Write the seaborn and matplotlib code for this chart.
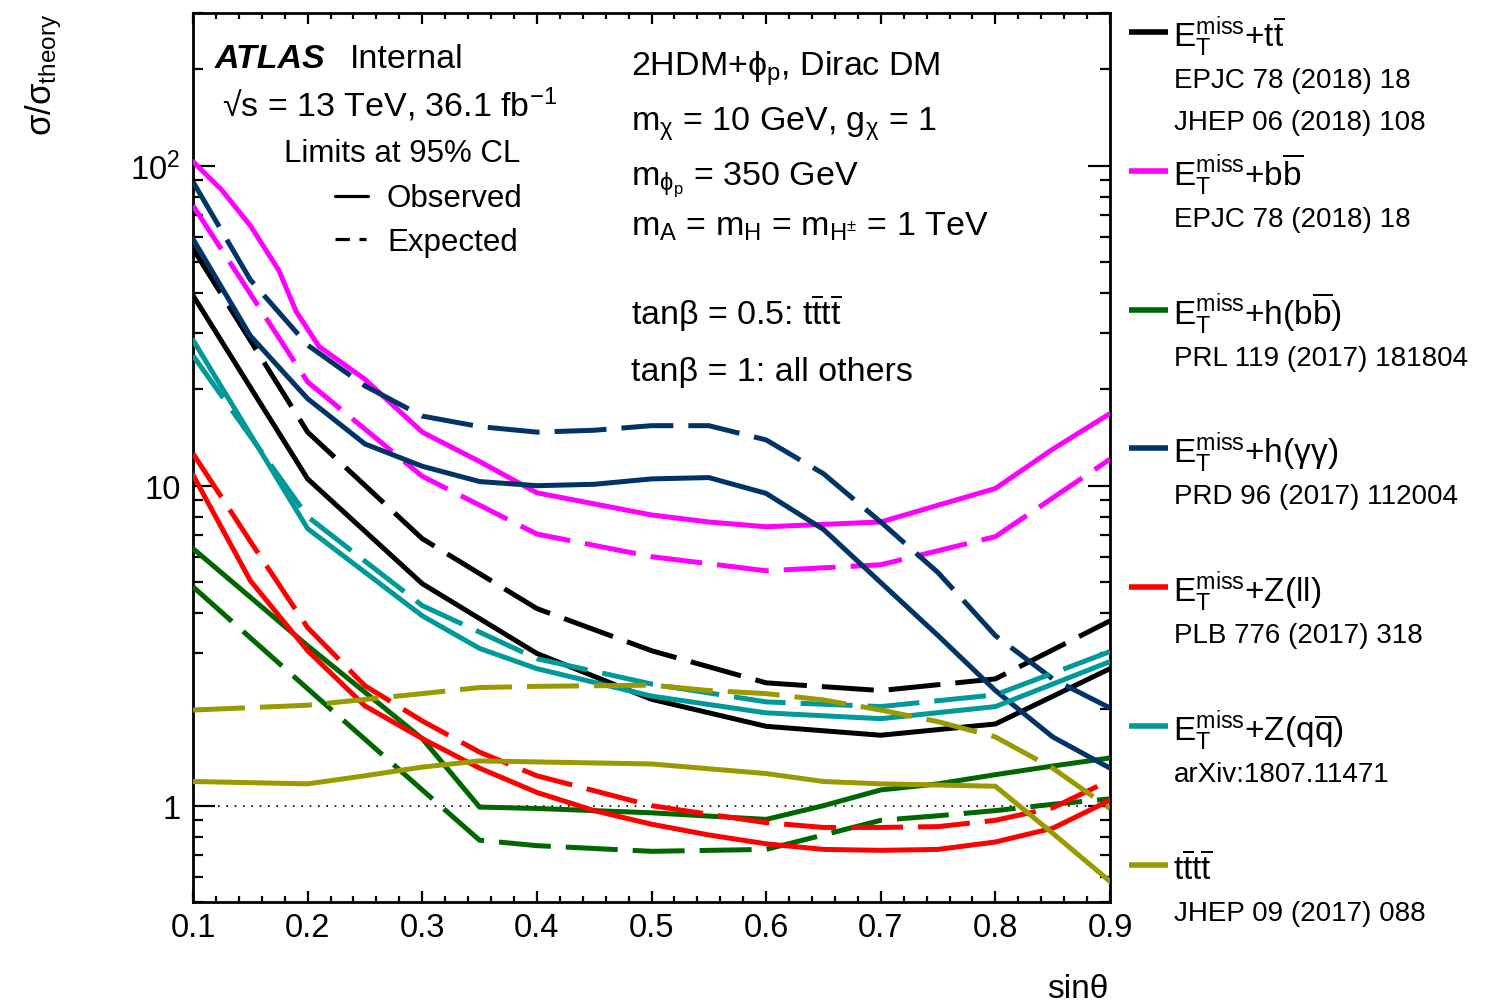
import numpy as np
import pandas as pd
import matplotlib
matplotlib.use("Agg")
import matplotlib.pyplot as plt
import matplotlib.ticker as mticker
from matplotlib.lines import Line2D
import seaborn as sns

# ---------------- data ----------------
tt_obs_x = [0.1, 0.15, 0.2, 0.3, 0.4, 0.5, 0.6, 0.7, 0.8, 0.9]
tt_obs_y = [39.3, 20.3, 10.5, 4.94, 2.99, 2.15, 1.77, 1.66, 1.80, 2.68]
tt_exp_x = [0.1, 0.2, 0.3, 0.4, 0.5, 0.6, 0.7, 0.8, 0.9]
tt_exp_y = [55.0, 14.7, 6.83, 4.13, 3.05, 2.42, 2.29, 2.49, 3.78]

bb_obs_x = [0.1, 0.125, 0.15, 0.175, 0.19, 0.21, 0.25, 0.3, 0.35, 0.4, 0.5, 0.55, 0.6, 0.7, 0.8, 0.85, 0.9]
bb_obs_y = [103, 84, 65, 47, 35, 27.2, 21.5, 14.7, 11.9, 9.5, 8.1, 7.7, 7.44, 7.7, 9.8, 13.0, 16.8]
bb_exp_x = [0.1, 0.2, 0.3, 0.4, 0.5, 0.6, 0.7, 0.8, 0.9]
bb_exp_y = [75, 21.1, 10.7, 7.06, 6.0, 5.42, 5.66, 6.93, 12.1]

hbb_obs_x = [0.1, 0.2, 0.3, 0.35, 0.4, 0.5, 0.6, 0.65, 0.7, 0.75, 0.8, 0.85, 0.9]
hbb_obs_y = [6.36, 3.16, 1.62, 0.99, 0.98, 0.95, 0.906, 1.0, 1.12, 1.17, 1.25, 1.33, 1.41]
hbb_exp_x = [0.1, 0.2, 0.3, 0.35, 0.4, 0.5, 0.6, 0.65, 0.7, 0.75, 0.8, 0.85, 0.9]
hbb_exp_y = [4.83, 2.32, 1.12, 0.78, 0.75, 0.72, 0.73, 0.81, 0.90, 0.93, 0.965, 1.01, 1.05]

hgg_obs_x = [0.1, 0.15, 0.2, 0.25, 0.3, 0.35, 0.4, 0.45, 0.5, 0.55, 0.6, 0.65, 0.7, 0.75, 0.8, 0.85, 0.9]
hgg_obs_y = [59, 29.4, 18.7, 13.5, 11.5, 10.3, 10.0, 10.1, 10.5, 10.6, 9.46, 7.3, 4.98, 3.4, 2.29, 1.64, 1.31]
hgg_exp_x = [0.1, 0.15, 0.2, 0.25, 0.3, 0.35, 0.4, 0.45, 0.5, 0.55, 0.6, 0.65, 0.7, 0.75, 0.8, 0.85, 0.9]
hgg_exp_y = [89, 44, 27.5, 20.5, 16.5, 15.3, 14.7, 14.9, 15.4, 15.4, 13.9, 10.9, 7.7, 5.35, 3.4, 2.49, 2.02]

zll_obs_x = [0.1, 0.15, 0.2, 0.25, 0.3, 0.35, 0.4, 0.45, 0.5, 0.55, 0.6, 0.65, 0.7, 0.75, 0.8, 0.85, 0.9]
zll_obs_y = [10.8, 5.05, 3.05, 2.05, 1.62, 1.31, 1.10, 0.965, 0.875, 0.81, 0.76, 0.73, 0.725, 0.73, 0.77, 0.85, 1.04]
zll_exp_x = [0.1, 0.15, 0.2, 0.25, 0.3, 0.35, 0.4, 0.5, 0.55, 0.6, 0.65, 0.7, 0.75, 0.8, 0.85, 0.9]
zll_exp_y = [12.6, 6.7, 3.6, 2.37, 1.84, 1.47, 1.24, 1.0, 0.94, 0.885, 0.855, 0.855, 0.86, 0.90, 0.985, 1.2]

zqq_obs_x = [0.1, 0.2, 0.3, 0.35, 0.4, 0.5, 0.6, 0.7, 0.8, 0.9]
zqq_obs_y = [28.5, 7.34, 3.92, 3.1, 2.68, 2.2, 1.95, 1.87, 2.04, 2.82]
zqq_exp_x = [0.1, 0.2, 0.3, 0.4, 0.5, 0.6, 0.7, 0.8, 0.9]
zqq_exp_y = [25.5, 8.0, 4.22, 2.88, 2.4, 2.11, 2.04, 2.22, 3.03]

tttt_obs_x = [0.1, 0.2, 0.25, 0.3, 0.35, 0.4, 0.5, 0.6, 0.65, 0.7, 0.75, 0.8, 0.85, 0.9]
tttt_obs_y = [1.19, 1.17, 1.24, 1.32, 1.38, 1.37, 1.35, 1.26, 1.19, 1.17, 1.16, 1.15, 0.82, 0.58]
tttt_exp_x = [0.1, 0.2, 0.3, 0.35, 0.4, 0.5, 0.55, 0.6, 0.65, 0.7, 0.75, 0.8, 0.85, 0.9]
tttt_exp_y = [1.99, 2.06, 2.24, 2.34, 2.36, 2.38, 2.29, 2.24, 2.14, 1.99, 1.83, 1.64, 1.31, 0.98]

channels = ["ttbar", "bbbar", "hbb", "hgg", "Zll", "Zqq", "tttt"]
colors = ["#000000", "#ff00ff", "#006600", "#003366", "#ff0000", "#009999", "#999900"]
series = {
    "ttbar": (tt_obs_x, tt_obs_y, tt_exp_x, tt_exp_y),
    "bbbar": (bb_obs_x, bb_obs_y, bb_exp_x, bb_exp_y),
    "hbb": (hbb_obs_x, hbb_obs_y, hbb_exp_x, hbb_exp_y),
    "hgg": (hgg_obs_x, hgg_obs_y, hgg_exp_x, hgg_exp_y),
    "Zll": (zll_obs_x, zll_obs_y, zll_exp_x, zll_exp_y),
    "Zqq": (zqq_obs_x, zqq_obs_y, zqq_exp_x, zqq_exp_y),
    "tttt": (tttt_obs_x, tttt_obs_y, tttt_exp_x, tttt_exp_y),
}

ET = r"$\mathrm{E}_{\mathrm{T}}^{\mathrm{miss}}$"
TBAR = r"$\overline{\mathrm{t}}$"
legend_main = [
    ET + "+t" + TBAR,
    ET + r"+b$\overline{\mathrm{b}}$",
    ET + r"+h(b$\overline{\mathrm{b}}$)",
    ET + "+h(γγ)",
    ET + "+Z(ll)",
    ET + r"+Z(q$\overline{\mathrm{q}}$)",
    "t" + TBAR + "t" + TBAR,
]
legend_refs = [
    ["EPJC 78 (2018) 18", "JHEP 06 (2018) 108"],
    ["EPJC 78 (2018) 18"],
    ["PRL 119 (2017) 181804"],
    ["PRD 96 (2017) 112004"],
    ["PLB 776 (2017) 318"],
    ["arXiv:1807.11471"],
    ["JHEP 09 (2017) 088"],
]
xtick_vals = [0.1, 0.2, 0.3, 0.4, 0.5, 0.6, 0.7, 0.8, 0.9]
ytick_vals = [1, 10, 100]
ytick_labels = ["1", "10", r"10$^{2}$"]

rows = []
for ch in channels:
    ox, oy, ex, ey = series[ch]
    for x, y in zip(ox, oy):
        rows.append((ch, "Observed", x, y))
    for x, y in zip(ex, ey):
        rows.append((ch, "Expected", x, y))
df = pd.DataFrame(rows, columns=["channel", "kind", "sin", "ratio"])

# ---------------- style ----------------
sns.set_style("ticks")
plt.rcParams["font.family"] = ["Liberation Sans", "DejaVu Sans"]
plt.rcParams["mathtext.fontset"] = "custom"
plt.rcParams["mathtext.rm"] = "Liberation Sans"
plt.rcParams["mathtext.it"] = "Liberation Sans"
plt.rcParams["mathtext.sf"] = "Liberation Sans"
plt.rcParams["mathtext.bf"] = "Liberation Sans:bold"
plt.rcParams["mathtext.fallback"] = "stixsans"
for k in ["text.color", "axes.labelcolor", "xtick.color", "ytick.color", "axes.edgecolor"]:
    plt.rcParams[k] = "black"

W, H = 1493, 1004
fig = plt.figure(figsize=(W / 100, H / 100), dpi=100)
ax = fig.add_axes([193 / W, 1 - 903 / H, (1110 - 193) / W, (903 - 14) / H])

ax.axhline(1.0, color="black", lw=1.2, ls=(0, (1, 4)), zorder=1)

LW = 3.6
DASH = (10.4, 3.0)
sns.lineplot(
    data=df, x="sin", y="ratio", hue="channel", style="kind",
    hue_order=channels, palette=dict(zip(channels, colors)),
    style_order=["Observed", "Expected"],
    dashes={"Observed": "", "Expected": DASH},
    estimator=None, sort=True, lw=LW, legend=False, ax=ax, zorder=3,
)
for ln in ax.get_lines()[1:]:
    dashed = ln.get_linestyle() not in ("-", "solid")
    ln.set_linewidth(LW)
    if dashed:
        ln.set_dashes(DASH)
    ln.set_solid_joinstyle("miter")
    ln.set_dash_joinstyle("miter")
    ln.set_dash_capstyle("butt")

ax.set_yscale("log")
ax.set_xlim(0.1, 0.9)
ax.set_ylim(0.5, 300)
ax.set_xlabel("")
ax.set_ylabel("")

ax.xaxis.set_major_locator(mticker.FixedLocator(xtick_vals))
ax.xaxis.set_major_formatter(mticker.FixedFormatter([f"{v:.1f}" for v in xtick_vals]))
ax.xaxis.set_minor_locator(mticker.MultipleLocator(0.02))
ax.yaxis.set_major_locator(mticker.FixedLocator(ytick_vals))
ax.yaxis.set_major_formatter(mticker.FixedFormatter(ytick_labels))
ax.yaxis.set_minor_locator(mticker.LogLocator(base=10, subs=np.arange(2, 10), numticks=20))
ax.yaxis.set_minor_formatter(mticker.NullFormatter())

for s in ax.spines.values():
    s.set_linewidth(2.0)
    s.set_color("black")
ax.tick_params(axis="both", which="both", direction="in", top=True, right=True, color="black",
               labelcolor="black", width=1.6)
ax.tick_params(axis="x", which="major", length=8, pad=7, labelsize=23.5)
ax.tick_params(axis="x", which="minor", length=4)
ax.tick_params(axis="y", which="major", length=16, pad=9, labelsize=23.5)
ax.tick_params(axis="y", which="minor", length=7.5)

# axis titles
fig.text(1108 / W, 1 - 998 / H, "sinθ", ha="right", va="baseline", fontsize=24)
fig.text(44 / W, 1 - 14 / H, r"σ/σ$_{\mathrm{theory}}$", rotation=90, ha="center", va="top", fontsize=25)

# ATLAS label block
fig.text(215 / W, 1 - 68 / H, "ATLAS", fontsize=24.5, fontweight="bold", fontstyle="italic", va="baseline")
fig.text(350 / W, 1 - 68 / H, "Internal", fontsize=24.5, va="baseline")
fig.text(222 / W, 1 - 117 / H, r"√s = 13 TeV, 36.1 fb$^{-1}$", fontsize=24.5, va="baseline")
fig.text(284 / W, 1 - 162 / H, "Limits at 95% CL", fontsize=22.5, va="baseline")
fig.text(387 / W, 1 - 207 / H, "Observed", fontsize=22.5, va="baseline")
fig.text(387 / W, 1 - 251 / H, "Expected", fontsize=22.5, va="baseline")
fig.add_artist(Line2D([335 / W, 368 / W], [1 - 197 / H] * 2, transform=fig.transFigure, color="black", lw=2.3))
fig.add_artist(Line2D([335 / W, 366 / W], [1 - 240 / H] * 2, transform=fig.transFigure, color="black", lw=2.3,
                      dashes=(4.5, 3.0), dash_capstyle="butt"))

# model block
model_lines = [
    (76, r"2HDM+$\mathrm{ϕ}_{\mathrm{p}}$, Dirac DM"),
    (131, r"m$_{\mathrm{χ}}$ = 10 GeV, g$_{\mathrm{χ}}$ = 1"),
    (185, r"m$_{\mathrm{ϕ}_{\mathrm{p}}}$ = 350 GeV"),
    (236, r"m$_{\mathrm{A}}$ = m$_{\mathrm{H}}$ = m$_{\mathrm{H}^{\pm}}$ = 1 TeV"),
    (325, "tanβ = 0.5: t" + TBAR + "t" + TBAR),
    (381, "tanβ = 1: all others"),
]
for yb, s in model_lines:
    fig.text(631 / W, 1 - yb / H, s, fontsize=24.5, va="baseline")

# right-hand legend
key_y = [33, 172, 311, 449, 588, 727, 866]
for i, (lab, refs) in enumerate(zip(legend_main, legend_refs)):
    y0 = key_y[i]
    fig.add_artist(Line2D([1129 / W, 1168 / W], [1 - y0 / H] * 2, transform=fig.transFigure,
                          color=colors[i], lw=4, solid_capstyle="butt"))
    fig.text(1173 / W, 1 - (y0 + 14) / H, lab, fontsize=24, va="baseline")
    for j, r in enumerate(refs):
        fig.text(1174 / W, 1 - (y0 + 55 + 42 * j) / H, r, fontsize=20, va="baseline")

fig.savefig("out.png", dpi=100)
